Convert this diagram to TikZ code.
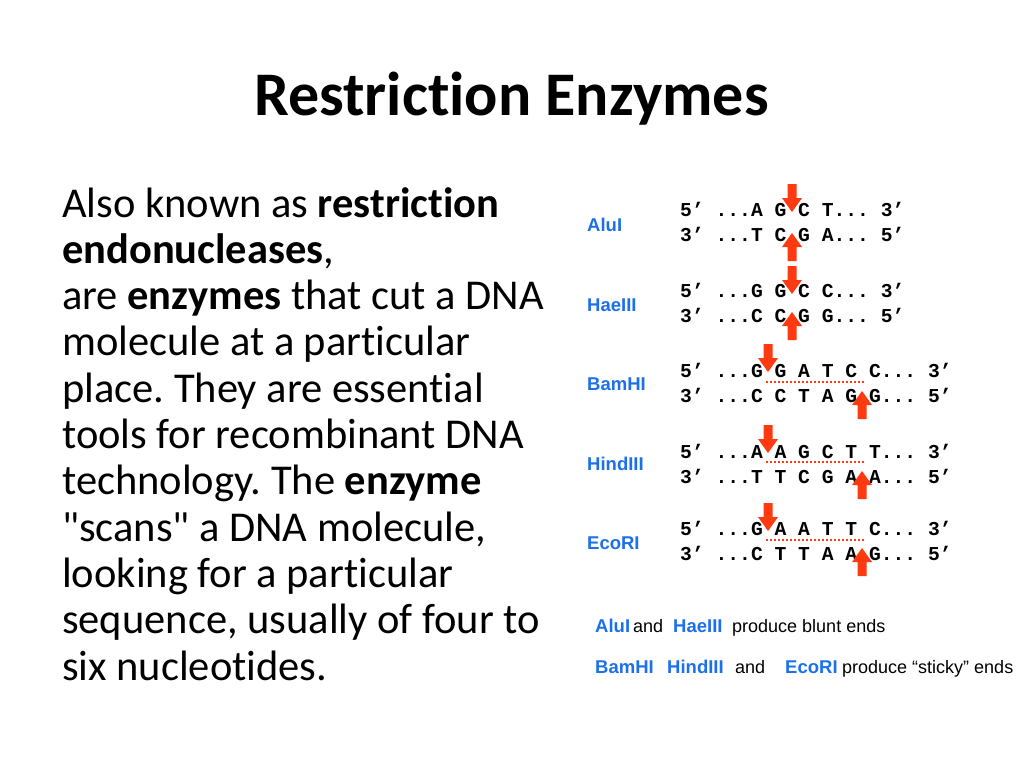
\documentclass[tikz,border=0pt]{standalone}
\usepackage{fontspec}
\setmainfont{Carlito}[Ligatures={TeX,NoCommon}]
\newfontfamily\dnafont{Liberation Mono}[BoldFont={* Bold}]
\newfontfamily\labfont{Liberation Sans}
\definecolor{arrowred}{RGB}{255,58,16}
\definecolor{enzblue}{RGB}{28,112,235}
\frenchspacing
\tikzset{
  bodytext/.style={anchor=base west, inner sep=0pt, font=\fontsize{42.5}{46}\selectfont},
  titletext/.style={anchor=base, inner sep=0pt, font=\fontsize{62}{70}\selectfont\bfseries},
  dnatext/.style={anchor=base west, inner sep=0pt, font=\dnafont\bfseries\fontsize{19.67}{22}\selectfont},
  enzlabel/.style={anchor=base west, inner sep=0pt, text=enzblue, font=\labfont\bfseries\fontsize{18.5}{20}\selectfont},
  notetext/.style={anchor=base west, inner sep=0pt, font=\labfont\fontsize{18}{20}\selectfont},
  cutline/.style={arrowred, line width=2pt, dash pattern=on 2pt off 2pt},
  darr/.pic={\fill[arrowred] (0,0) -- (-10,-14) -- (-4.5,-14) -- (-4.5,-28) -- (4.5,-28) -- (4.5,-14) -- (10,-14) -- cycle;},
  uarr/.pic={\fill[arrowred] (0,0) -- (-10,14) -- (-4.5,14) -- (-4.5,28) -- (4.5,28) -- (4.5,14) -- (10,14) -- cycle;}
}
\begin{document}
\begin{tikzpicture}[x=1pt,y=-1pt]
\useasboundingbox[fill=white] (0,0) rectangle (1024,768);
% title
\node[titletext] (title) at (511.5,115) {Restriction Enzymes};
% body text
\node[bodytext] (l1) at (62,217) {Also known as \textbf{restriction}};
\node[bodytext] (l2) at (62,263.3) {\textbf{endonucleases},};
\node[bodytext] (l3) at (62,309.6) {are \textbf{enzymes} that cut a DNA};
\node[bodytext] (l4) at (62,355.9) {molecule at a particular};
\node[bodytext] (l5) at (62,402.2) {place. They are essential};
\node[bodytext] (l6) at (62,448.5) {tools for recombinant DNA};
\node[bodytext] (l7) at (62,494.8) {technology. The \textbf{enzyme}};
\node[bodytext] (l8) at (62,541.1) {\textquotedbl scans\textquotedbl{} a DNA molecule,};
\node[bodytext] (l9) at (62,587.4) {looking for a particular};
\node[bodytext] (l10) at (62,633.7) {sequence, usually of four to};
\node[bodytext] (l11) at (62,680) {six nucleotides.};
% enzyme labels
\node[enzlabel] (alu) at (587,231) {AluI};
\node[enzlabel] (hae) at (587,311) {HaeIII};
\node[enzlabel] (bam) at (587,390) {BamHI};
\node[enzlabel] (hind) at (587,470) {HindIII};
\node[enzlabel] (eco) at (587,549) {EcoRI};
% sequences
\node[dnatext] (alu1) at (680,216) {5’ ...A G C T... 3’};
\node[dnatext] (alu2) at (680,241) {3’ ...T C G A... 5’};
\node[dnatext] (hae1) at (680,297) {5’ ...G G C C... 3’};
\node[dnatext] (hae2) at (680,322) {3’ ...C C G G... 5’};
\node[dnatext] (bam1) at (680,377) {5’ ...G G A T C C... 3’};
\node[dnatext] (bam2) at (680,402) {3’ ...C C T A G G... 5’};
\node[dnatext] (hind1) at (680,458) {5’ ...A A G C T T... 3’};
\node[dnatext] (hind2) at (680,483) {3’ ...T T C G A A... 5’};
\node[dnatext] (eco1) at (680,535) {5’ ...G A A T T C... 3’};
\node[dnatext] (eco2) at (680,560) {3’ ...C T T A A G... 5’};
% cut arrows
\pic at (792,212) {darr};
\pic at (792,233) {uarr};
\pic at (792,294) {darr};
\pic at (792,312) {uarr};
\pic at (768,372) {darr};
\pic at (862,391) {uarr};
\pic at (768,453) {darr};
\pic at (862,471) {uarr};
\pic at (768,531) {darr};
\pic at (862,548) {uarr};
% dotted sticky-end lines
\draw[cutline] (766,382) -- (864,382);
\draw[cutline] (766,462) -- (864,462);
\draw[cutline] (766,540) -- (864,540);
% notes
\node[enzlabel] (n1a) at (595,632) {AluI};
\node[notetext] (n1b) at (633,632) {and};
\node[enzlabel] (n1c) at (673,632) {HaeIII};
\node[notetext] (n1d) at (732,632) {produce blunt ends};
\node[enzlabel] (n2a) at (595,673) {BamHI};
\node[enzlabel] (n2b) at (667,673) {HindIII};
\node[notetext] (n2c) at (735,673) {and};
\node[enzlabel] (n2d) at (785,673) {EcoRI};
\node[notetext] (n2e) at (842,673) {produce “sticky” ends};
\end{tikzpicture}
\end{document}
